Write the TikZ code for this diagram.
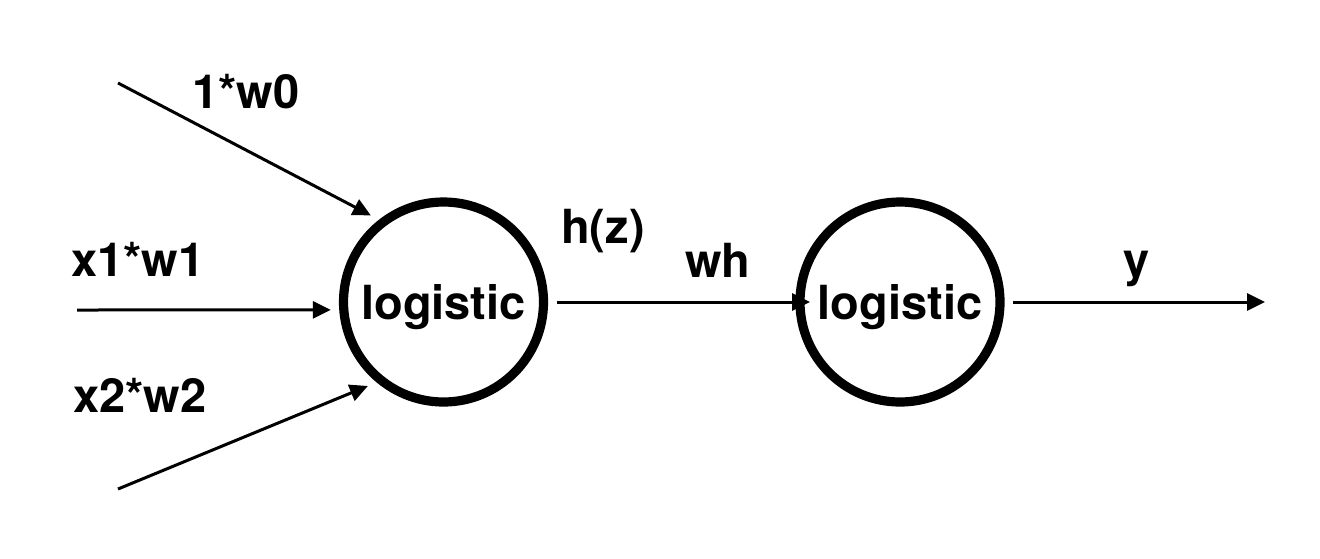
\documentclass[tikz,border=0pt]{standalone}
\usepackage{fontspec}
\setmainfont{TeX Gyre Heros}
\usetikzlibrary{arrows.meta}
\usetikzlibrary{positioning}
\tikzset{
unit/.style={
  circle,draw,line width=4.6pt,minimum size=100pt,inner sep=0pt,outer sep=6.5pt,
  text depth=0pt},
conn/.style={
  line width=1.5pt,-{Triangle[length=9pt,width=8.5pt]}},
lbl/.style={anchor=base}
}
\begin{document}
\begin{tikzpicture}[x=0.5pt,y=-0.5pt,font=\fontsize{23.5pt}{28pt}\bfseries]
\useasboundingbox (0,0) rectangle (1320,558);
\node[unit](Hnode) at (443.5,302){logistic};
\node[unit](Ynode) at (900,302){logistic};

\coordinate (A) at (118,83);
\coordinate (B) at (77,310);
\coordinate (C) at (118,489);
\coordinate (D) at (1265,302);

\draw[conn] (A) -- (Hnode.130);
\draw[conn] (B) -- (Hnode.184);
\draw[conn] (C) -- (Hnode.228);
\draw[conn] (Hnode) -- ([xshift=11.5pt]Ynode.west);
\draw[conn] (Ynode) -- (D);

\node[lbl](w0) at (246,108){1*w0};
\node[lbl](w1) at (138,276){x1*w1};
\node[lbl](w2) at (140,412){x2*w2};
\node[lbl](hz) at (603,243){h(z)};
\node[lbl](wh) at (718,277){wh};
\node[lbl](y) at (1137,276){y};
\end{tikzpicture}
\end{document}
